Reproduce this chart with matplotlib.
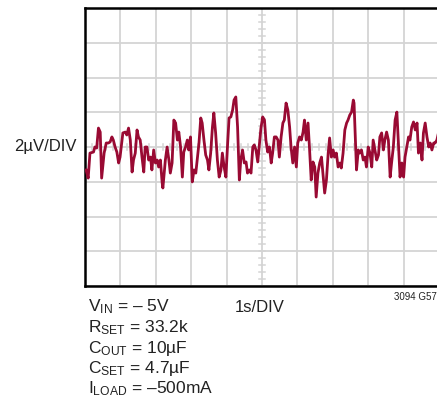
import matplotlib
matplotlib.use("Agg")
import matplotlib.pyplot as plt

# Output noise trace, 1s/DIV horizontal, 2µV/DIV vertical
TIME_S = [
    0.03, 0.09, 0.14, 0.24, 0.28, 0.33, 0.38, 0.43, 0.47, 0.54,
    0.60, 0.66, 0.71, 0.76, 0.80, 0.85, 0.90, 0.95, 0.99, 1.07,
    1.14, 1.18, 1.23, 1.28, 1.33, 1.37, 1.42, 1.47, 1.51, 1.56,
    1.61, 1.66, 1.70, 1.75, 1.80, 1.85, 1.89, 1.94, 1.99, 2.04,
    2.08, 2.13, 2.18, 2.20, 2.27, 2.32, 2.37, 2.41, 2.46, 2.51,
    2.56, 2.61, 2.65, 2.70, 2.75, 2.79, 2.84, 2.89, 2.93, 2.98,
    3.03, 3.08, 3.13, 3.17, 3.22, 3.27, 3.31, 3.36, 3.41, 3.46,
    3.50, 3.55, 3.60, 3.64, 3.69, 3.74, 3.79, 3.84, 3.88, 3.93,
    3.98, 4.03, 4.07, 4.12, 4.17, 4.21, 4.26, 4.31, 4.36, 4.40,
    4.45, 4.50, 4.55, 4.59, 4.64, 4.69, 4.74, 4.78, 4.83, 4.88,
    4.92, 4.97, 5.02, 5.07, 5.11, 5.16, 5.21, 5.26, 5.30, 5.35,
    5.40, 5.45, 5.49, 5.54, 5.59, 5.63, 5.68, 5.73, 5.78, 5.82,
    5.87, 5.92, 5.97, 6.01, 6.06, 6.11, 6.16, 6.20, 6.25, 6.30,
    6.34, 6.39, 6.44, 6.49, 6.53, 6.58, 6.63, 6.68, 6.72, 6.77,
    6.82, 6.87, 6.91, 6.96, 7.01, 7.05, 7.10, 7.15, 7.20, 7.24,
    7.29, 7.34, 7.39, 7.43, 7.48, 7.53, 7.58, 7.60, 7.64, 7.67,
    7.72, 7.76, 7.81, 7.86, 7.91, 7.95, 8.00, 8.05, 8.10, 8.14,
    8.19, 8.24, 8.29, 8.33, 8.38, 8.43, 8.47, 8.52, 8.57, 8.62,
    8.66, 8.71, 8.76, 8.81, 8.85, 8.90, 8.95, 9.00, 9.04, 9.09,
    9.14, 9.18, 9.23, 9.28, 9.33, 9.38, 9.42, 9.47, 9.52, 9.56,
    9.61, 9.66, 9.71, 9.75, 9.80, 9.85, 9.89, 9.94, 9.99,
]
NOISE_UV = [
    -1.32, -1.79, -0.35, -0.29, 0.00, -0.06, 1.09, 0.86, -1.79, -0.35,
    0.23, 0.23, 0.29, 0.58, 0.40, 0.00, -0.29, -0.92, -0.58, 0.81,
    0.86, 0.69, 1.09, 0.40, -1.44, -0.75, -0.35, 0.98, 0.58, 0.40,
    -0.58, -1.44, 0.00, 0.00, -0.75, -0.58, -1.32, -0.17, -0.92, -0.75,
    -1.15, -0.75, -2.07, -2.36, -0.75, 0.00, -0.75, -1.50, -0.92, 1.55,
    1.38, 0.40, 0.86, 0.00, -1.73, -0.29, 0.00, 0.40, -0.17, 0.58,
    -2.01, -1.32, -1.50, -0.75, 0.23, 1.67, 1.38, 0.40, -0.46, -0.75,
    -1.32, -0.35, 1.15, 1.96, 0.81, -0.75, -1.73, -1.32, -0.35, -1.15,
    -1.73, 0.23, 1.67, 1.73, 2.13, 2.70, 2.88, 1.15, -1.90, -0.75,
    -0.17, -0.92, -0.86, -1.50, -1.32, -1.50, 0.00, 0.12, -0.17, -0.86,
    0.00, 1.09, 1.73, 1.55, 0.40, -0.29, 0.00, -0.92, -0.35, 0.58,
    0.58, 0.40, -0.58, 0.58, 1.38, 1.55, 2.53, 2.13, 1.15, 0.00,
    -0.92, 0.00, -1.15, 0.23, 0.58, 0.40, 0.86, 1.55, 0.40, 1.38,
    0.00, -1.90, -0.86, -1.15, -2.88, -1.50, -0.92, -0.58, -1.50, -2.65,
    -1.90, -0.35, 0.52, -0.58, -0.17, -0.58, -0.35, -1.15, -0.92, -1.21,
    -0.35, 0.98, 1.38, 1.55, 1.84, 2.01, 2.70, 2.53, 0.40, -1.32,
    -0.17, -0.35, -0.17, -0.75, -0.58, -1.15, 0.00, -0.35, -1.15, 0.40,
    -0.17, -0.75, -0.46, 0.58, 0.81, -0.17, 0.40, 0.86, 0.40, -1.73,
    -0.92, 0.00, 1.55, 2.01, 0.40, -1.73, -0.92, -1.73, -0.58, 0.00,
    0.58, 0.40, 1.15, 1.44, 0.98, 1.38, -0.35, 0.23, -0.75, 0.81,
    1.38, 0.58, 0.00, 0.23, -0.17, 0.23, 0.23, 0.40, 0.86,
]

CONDITIONS = [
    r"V$_{\mathregular{IN}}$ = – 5V",
    r"R$_{\mathregular{SET}}$ = 33.2k",
    r"C$_{\mathregular{OUT}}$ = 10µF",
    r"C$_{\mathregular{SET}}$ = 4.7µF",
    r"I$_{\mathregular{LOAD}}$ = –500mA",
]

FONT = ["Liberation Sans Narrow", "Liberation Sans", "DejaVu Sans"]
plt.rcParams["font.family"] = FONT
plt.rcParams["mathtext.fontset"] = "custom"
plt.rcParams["mathtext.rm"] = FONT[1]
plt.rcParams["mathtext.default"] = "regular"

W, H = 437, 408
fig = plt.figure(figsize=(W / 100, H / 100), dpi=100)
ax = fig.add_axes([85 / W, (H - 286) / H, 354 / W, 278 / H])

ax.set_xlim(0, 10)
ax.set_ylim(-8, 8)
ax.set_xticks(range(0, 11))
ax.set_yticks(range(-8, 9, 2))
ax.grid(True, color="#d4d4d4", lw=1.3)
ax.set_axisbelow(True)
ax.tick_params(length=0, labelbottom=False, labelleft=False)

for side in ("left", "top", "bottom"):
    ax.spines[side].set_linewidth(1.8)
    ax.spines[side].set_color("black")
ax.spines["right"].set_visible(False)

# center graticule with fifth-division marks
for i in range(1, 50):
    x = i * 0.2
    ax.plot([x, x], [-0.18, 0.18], color="#d4d4d4", lw=1.1, zorder=1)
for i in range(1, 40):
    y = -8 + i * 0.4
    ax.plot([4.91, 5.09], [y, y], color="#d4d4d4", lw=1.1, zorder=1)

ax.plot(TIME_S, NOISE_UV, color="#990a33", lw=2.0, zorder=3,
        solid_joinstyle="round")

fig.text(14 / W, 1 - 147 / H, "2µV/DIV", fontsize=12, va="center",
         ha="left", color="#222222")
fig.text(260 / W, 1 - 307 / H, "1s/DIV", fontsize=12, va="center",
         ha="center", color="#222222")
fig.text(437 / W, 1 - 297 / H, "3094 G57", fontsize=7, va="center",
         ha="right", color="#222222")

for i, line in enumerate(CONDITIONS):
    fig.text(88 / W, 1 - (307 + 20.5 * i) / H, line, fontsize=12.5,
             va="center", ha="left", color="#222222")

fig.savefig("out.png", dpi=100)
